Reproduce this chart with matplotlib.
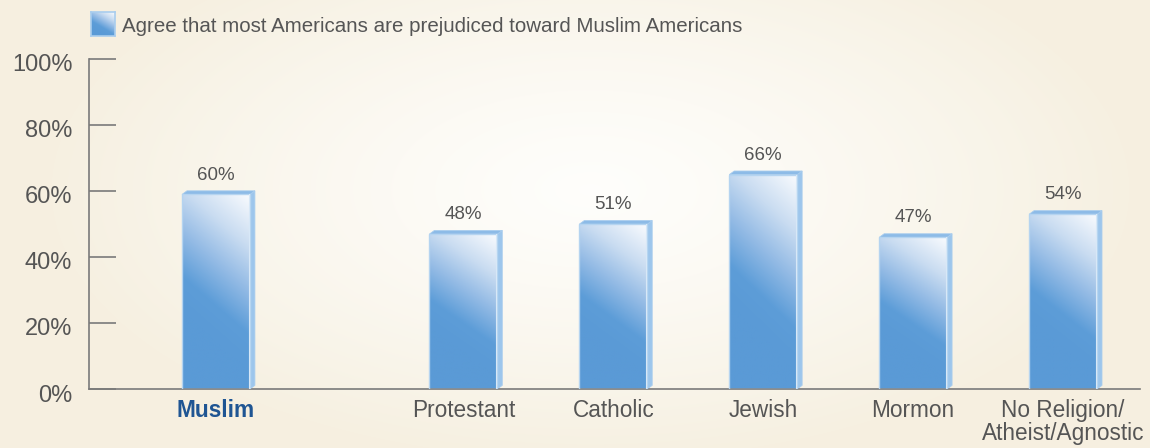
import numpy as np
import matplotlib
matplotlib.use("Agg")
import matplotlib.pyplot as plt
from matplotlib.patches import Rectangle, Polygon
from matplotlib.colors import LinearSegmentedColormap
import matplotlib.transforms as mtransforms

categories = ["Muslim", "Protestant", "Catholic", "Jewish", "Mormon", "No Religion/\nAtheist/Agnostic"]
values = [60, 48, 51, 66, 47, 54]
value_labels = ["60%", "48%", "51%", "66%", "47%", "54%"]
yticks = [0, 20, 40, 60, 80, 100]
ytick_labels = ["0%", "20%", "40%", "60%", "80%", "100%"]
legend_label = "Agree that most Americans are prejudiced toward Muslim Americans"

# layout
x_pos = [0, 1.65, 2.65, 3.65, 4.65, 5.65]
bar_w = 0.453
dep_x = 0.033
dep_y = 1.1

plt.rcParams['font.family'] = ['Liberation Sans', 'DejaVu Sans']
W, H = 1150, 448
fig = plt.figure(figsize=(W / 100, H / 100), dpi=100)

# background with soft radial glow
bg = fig.add_axes([0, 0, 1, 1], zorder=-10)
yy, xx = np.mgrid[0:H, 0:W]
r = np.sqrt(((xx - 590) / 540.0) ** 2 + ((yy - 190) / 270.0) ** 2)
t = np.clip(r, 0, 1) ** 1.3
c_in = np.array([0.997, 0.995, 0.985])
c_out = np.array([0.965, 0.941, 0.882])
img = c_in[None, None, :] * (1 - t[..., None]) + c_out[None, None, :] * t[..., None]
bg.imshow(img, extent=[0, 1, 0, 1], aspect='auto', origin='upper')
bg.axis('off')

ax = fig.add_axes([89 / W, 59 / H, (1140 - 89) / W, (389.3 - 59) / H])
ax.patch.set_alpha(0)
ax.set_xlim(-0.847, 6.163)
ax.set_ylim(0, 100)

cmap = LinearSegmentedColormap.from_list(
    "barg", [(0.0, "#f9fbfe"), (0.3, "#c9dcf1"), (0.55, "#94bbe5"), (0.8, "#5d9dd8"), (1.0, "#5a9ad6")])

for xp, v in zip(x_pos, values):
    x0 = xp - bar_w / 2
    x1 = xp + bar_w / 2
    top = v - dep_y
    ny, nx = 200, 60
    vv, uu = np.mgrid[0:ny, 0:nx]
    vfrac = vv / (ny - 1)
    ufrac = 1 - uu / (nx - 1)
    s = np.clip((vfrac + 0.3 * ufrac) / 0.9, 0, 1)
    im = ax.imshow(cmap(s), extent=[x0, x1, 0, top], aspect='auto', origin='upper',
                   interpolation='bilinear', zorder=2)
    rect = Rectangle((x0, 0), bar_w, top, facecolor='none', edgecolor='#b5d4f0',
                     linewidth=1.0, zorder=3)
    ax.add_patch(rect)
    im.set_clip_path(rect)
    side = Polygon([(x1, 0), (x1 + dep_x, dep_y), (x1 + dep_x, v), (x1, top)],
                   closed=True, facecolor='#9dc6ec', edgecolor='#a9cdee', linewidth=0.6, zorder=2)
    ax.add_patch(side)
    topf = Polygon([(x0, top), (x0 + dep_x, v), (x1 + dep_x, v), (x1, top)],
                   closed=True, facecolor='#8dbbe7', edgecolor='#a9cdee', linewidth=0.6, zorder=2)
    ax.add_patch(topf)
    ax.plot([x1 - 0.008, x1 - 0.008], [0, top], color='#d8e8f7', linewidth=0.8, zorder=3)

for xp, v, lab in zip(x_pos, values, value_labels):
    ax.text(xp, v + 2.2, lab, ha='center', va='bottom', fontsize=13.5, color='#555555', zorder=4)

for side in ['top', 'right']:
    ax.spines[side].set_visible(False)
for side in ['left', 'bottom']:
    ax.spines[side].set_color('#7a7a7a')
    ax.spines[side].set_linewidth(1.2)

ax.set_yticks(yticks)
ax.set_yticklabels(ytick_labels)
ax.tick_params(axis='y', direction='in', length=19.5, width=1.2, color='#7a7a7a',
               labelsize=17, labelcolor='#555555', pad=12)
offset = mtransforms.ScaledTranslation(0, -4 / 100, fig.dpi_scale_trans)
for lbl in ax.get_yticklabels():
    lbl.set_transform(lbl.get_transform() + offset)

ax.set_xticks(x_pos)
ax.set_xticklabels(categories, linespacing=1.0)
ax.tick_params(axis='x', length=0, labelsize=16.3, labelcolor='#555555', pad=7)
xl = ax.get_xticklabels()
xl[0].set_fontweight('bold')
xl[0].set_color('#1f5593')

# legend
sq = fig.add_axes([91 / W, (H - 36) / H, 24 / W, 24 / H])
sv, su = np.mgrid[0:40, 0:40]
ss = np.clip((sv / 39 + 0.6 * (1 - su / 39)) / 1.2, 0, 1)
sq.imshow(cmap(ss), extent=[0, 1, 0, 1], aspect='auto', origin='upper')
sq.set_xticks([]); sq.set_yticks([])
for sp in sq.spines.values():
    sp.set_color('#a9cdee')
    sp.set_linewidth(1.2)
fig.text(122 / W, 1 - 27 / H, legend_label, ha='left', va='center', fontsize=14.8, color='#555555')

fig.savefig("out.png", dpi=100)
